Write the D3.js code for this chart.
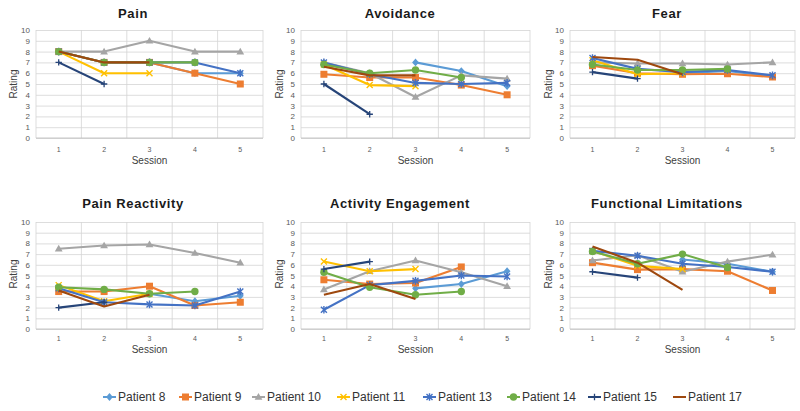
<!DOCTYPE html>
<html><head><meta charset="utf-8">
<script src="https://cdn.jsdelivr.net/npm/d3@7"></script>
<style>
html,body{margin:0;padding:0;background:#fff;}
svg{display:block;font-family:"Liberation Sans",Arial,sans-serif;}
</style></head>
<body>
<svg id="chart" width="800" height="411"></svg>
<script>
// ---------- data ----------
const sessions = [1, 2, 3, 4, 5];
const yTicks = [0, 1, 2, 3, 4, 5, 6, 7, 8, 9, 10];
const patients = ["Patient 8", "Patient 9", "Patient 10", "Patient 11", "Patient 13", "Patient 14", "Patient 15", "Patient 17"];
const panelTitles = ["Pain", "Avoidance", "Fear", "Pain Reactivity", "Activity Engagement", "Functional Limitations"];

// rows: one per patient, in the order of `patients`; null = no session
const painValues = [
  [null, null, 7, 6, 6],
  [8, 7, 7, 6, 5],
  [8, 8, 9, 8, 8],
  [8, 6, 6, null, null],
  [8, 7, 7, 7, 6],
  [8, 7, 7, 7, null],
  [7, 5, null, null, null],
  [8, 7, 7, null, null]
];
const avoidanceValues = [
  [null, null, 7.0, 6.2, 4.8],
  [5.9, 5.6, 5.6, 4.9, 4.0],
  [7.0, 6.0, 3.8, 5.8, 5.5],
  [6.8, 4.9, 4.8, null, null],
  [7.0, 5.9, 5.1, 5.0, 5.1],
  [6.8, 6.0, 6.3, 5.6, null],
  [5.0, 2.2, null, null, null],
  [6.6, 5.8, 5.8, null, null]
];
const fearValues = [
  [null, null, 6.0, 6.2, 5.7],
  [6.7, 6.0, 5.9, 5.95, 5.65],
  [7.0, 6.9, 6.9, 6.8, 7.0],
  [7.2, 5.9, 6.0, null, null],
  [7.4, 6.4, 6.1, 6.3, 5.8],
  [6.8, 6.3, 6.3, 6.4, null],
  [6.1, 5.5, null, null, null],
  [7.5, 7.25, 5.9, null, null]
];
const painReactivityValues = [
  [null, null, 3.3, 2.6, 3.1],
  [3.5, 3.5, 4.0, 2.2, 2.5],
  [7.5, 7.8, 7.9, 7.1, 6.2],
  [4.1, 2.6, 3.3, null, null],
  [3.8, 2.5, 2.3, 2.2, 3.5],
  [3.9, 3.7, 3.3, 3.5, null],
  [2.0, 2.5, null, null, null],
  [3.6, 2.1, 3.2, null, null]
];
const activityValues = [
  [null, null, 3.8, 4.2, 5.4],
  [4.6, 4.2, 4.3, 5.8, null],
  [3.7, 5.4, 6.4, 5.3, 4.0],
  [6.3, 5.4, 5.6, null, null],
  [1.8, 4.1, 4.5, 5.0, 4.9],
  [5.3, 3.9, 3.2, 3.5, null],
  [5.6, 6.3, null, null, null],
  [3.2, 4.2, 2.8, null, null]
];
const functionalValues = [
  [null, null, 6.5, 6.1, 5.35],
  [6.2, 5.55, 5.6, 5.4, 3.6],
  [6.4, 6.9, 5.35, 6.3, 6.95],
  [7.3, 5.9, 5.6, null, null],
  [7.3, 6.85, 6.1, 5.8, 5.35],
  [7.25, 6.1, 7.0, 5.75, null],
  [5.35, 4.8, null, null, null],
  [7.7, 6.2, 3.65, null, null]
];
const panelValues = [painValues, avoidanceValues, fearValues, painReactivityValues, activityValues, functionalValues];

// ---------- styles ----------
const colors = ["#5B9BD5", "#ED7D31", "#A5A5A5", "#FFC000", "#4472C4", "#70AD47", "#264478", "#9E480E"];
const markers = ["diamond", "square", "triangle", "x", "star", "circle", "plus", "none"];

const svg = d3.select("#chart");

const cols = [
  {left: 36, right: 263, titleX: 133, ratingX: 13},
  {left: 301, right: 530, titleX: 400, ratingX: 279},
  {left: 570, right: 795, titleX: 667, ratingX: 548}
];
const rows = [
  {top: 30, bottom: 138, titleY: 18, tickY: 152, sessionY: 164, ratingY: 84},
  {top: 222, bottom: 329, titleY: 208, tickY: 341, sessionY: 353, ratingY: 274}
];

function drawMarker(g, type, x, y, color) {
  const s = 3.4;
  if (type === "diamond") {
    g.append("path").attr("d", `M${x},${y - s - 0.5}L${x + s},${y}L${x},${y + s + 0.5}L${x - s},${y}Z`).attr("fill", color);
  } else if (type === "square") {
    g.append("rect").attr("x", x - 3.5).attr("y", y - 3.5).attr("width", 7).attr("height", 7).attr("fill", color);
  } else if (type === "triangle") {
    g.append("path").attr("d", `M${x},${y - 3.9}L${x + 3.9},${y + 2.8}L${x - 3.9},${y + 2.8}Z`).attr("fill", color);
  } else if (type === "x") {
    g.append("path").attr("d", `M${x - 3},${y - 3}L${x + 3},${y + 3}M${x - 3},${y + 3}L${x + 3},${y - 3}`).attr("stroke", color).attr("stroke-width", 1.4);
  } else if (type === "star") {
    g.append("path").attr("d", `M${x - 3},${y - 3}L${x + 3},${y + 3}M${x - 3},${y + 3}L${x + 3},${y - 3}M${x},${y - 3.8}L${x},${y + 3.8}`).attr("stroke", color).attr("stroke-width", 1.4);
  } else if (type === "circle") {
    g.append("circle").attr("cx", x).attr("cy", y).attr("r", 3.7).attr("fill", color);
  } else if (type === "plus") {
    g.append("path").attr("d", `M${x - 3.2},${y}L${x + 3.2},${y}M${x},${y - 3.2}L${x},${y + 3.2}`).attr("stroke", color).attr("stroke-width", 1.3);
  }
}

panelTitles.forEach((title, pi) => {
  const c = cols[pi % 3], r = rows[Math.floor(pi / 3)];
  const x = d3.scaleBand().domain(sessions).range([c.left, c.right]).paddingInner(0).paddingOuter(0);
  const y = d3.scaleLinear().domain([0, 10]).range([r.bottom, r.top]);
  const g = svg.append("g");

  // horizontal gridlines
  g.append("g").attr("transform", `translate(${c.left},0)`)
    .call(d3.axisLeft(y).tickValues(yTicks).tickSize(-(c.right - c.left)).tickFormat(""))
    .call(a => a.select(".domain").remove())
    .call(a => a.selectAll("line").attr("stroke", "#d4d4d4").attr("stroke-width", 0.8));
  // vertical gridlines at category boundaries
  const bounds = sessions.map(s => x(s)).concat([c.right]);
  g.append("g").selectAll("line").data(bounds).join("line")
    .attr("x1", d => d).attr("x2", d => d).attr("y1", r.top).attr("y2", r.bottom)
    .attr("stroke", "#d4d4d4").attr("stroke-width", 0.8);
  // baseline
  g.append("line").attr("x1", c.left).attr("x2", c.right).attr("y1", y(0)).attr("y2", y(0))
    .attr("stroke", "#c0c0c0").attr("stroke-width", 0.9);

  // y tick labels
  g.append("g").attr("transform", `translate(${c.left - 4},0)`)
    .call(d3.axisLeft(y).tickValues(yTicks).tickSize(0).tickPadding(2))
    .call(a => a.select(".domain").remove())
    .call(a => a.selectAll("text").attr("fill", "#595959").attr("font-size", 8));
  // x tick labels
  g.append("g").attr("transform", `translate(0,${r.tickY - 5})`)
    .call(d3.axisBottom(x).tickSize(0).tickPadding(0))
    .call(a => a.select(".domain").remove())
    .call(a => a.selectAll("text").attr("fill", "#595959").attr("font-size", 7));

  // titles
  g.append("text").attr("x", c.titleX).attr("y", r.titleY).attr("text-anchor", "middle")
    .attr("font-size", 13).attr("font-weight", "bold").attr("letter-spacing", 0.6).attr("fill", "#1a1a1a").text(title);
  g.append("text").attr("x", (c.left + c.right) / 2).attr("y", r.sessionY).attr("text-anchor", "middle")
    .attr("font-size", 10).attr("fill", "#404040").text("Session");
  g.append("text").attr("transform", `translate(${c.ratingX},${r.ratingY}) rotate(-90)`).attr("text-anchor", "middle")
    .attr("dy", "0.35em").attr("font-size", 10).attr("fill", "#404040").text("Rating");

  // series
  const line = d3.line().defined(d => d.v != null).x(d => x(d.s) + x.bandwidth() / 2).y(d => y(d.v));
  panelValues[pi].forEach((vals, si) => {
    const pts = sessions.map((s, i) => ({s, v: vals[i]}));
    const sg = g.append("g");
    sg.append("path").attr("d", line(pts)).attr("fill", "none").attr("stroke", colors[si])
      .attr("stroke-width", 2.1).attr("stroke-linejoin", "round");
    pts.filter(d => d.v != null).forEach(d => drawMarker(sg, markers[si], x(d.s) + x.bandwidth() / 2, y(d.v), colors[si]));
  });
});

// legend
const legendX = [103, 179, 252, 337, 423, 507, 588, 673];
const lg = svg.append("g").attr("transform", "translate(0,397)");
patients.forEach((p, i) => {
  const x0 = legendX[i];
  lg.append("line").attr("x1", x0).attr("x2", x0 + 13).attr("y1", 0).attr("y2", 0)
    .attr("stroke", colors[i]).attr("stroke-width", 2);
  drawMarker(lg, markers[i], x0 + 6.5, 0, colors[i]);
  lg.append("text").attr("x", x0 + 15).attr("y", 0).attr("dy", "0.35em")
    .attr("font-size", 12).attr("fill", "#333333").text(p);
});
</script>
</body></html>
